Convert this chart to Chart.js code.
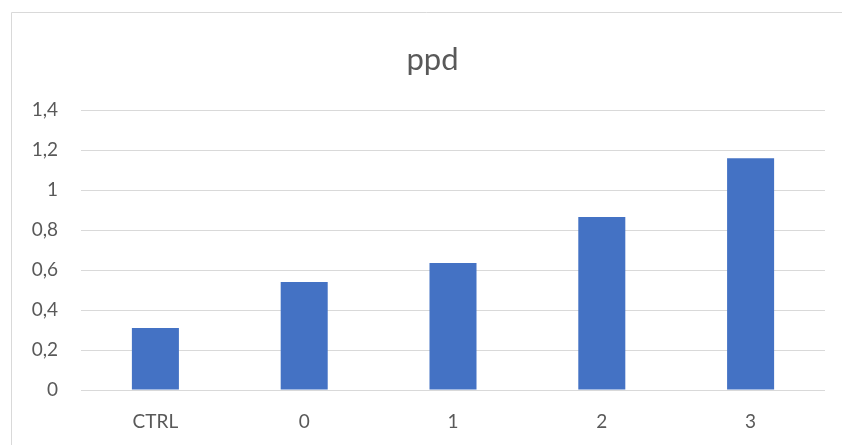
<!DOCTYPE html>
<html>
<head>
<meta charset="utf-8">
<script src="https://cdn.jsdelivr.net/npm/chart.js@4/dist/chart.umd.min.js"></script>
<style>
  html, body { margin: 0; padding: 0; background: #fff; }
  #wrap { width: 842px; height: 445px; position: relative; }
</style>
</head>
<body>
<div id="wrap"><canvas id="myChart"></canvas></div>
<script>
const categories = ['CTRL', '0', '1', '2', '3'];
const ppdValues = [0.31, 0.54, 0.635, 0.865, 1.16];
const yTickLabels = ['0', '0,2', '0,4', '0,6', '0,8', '1', '1,2', '1,4'];

const textColor = '#595959';
const gridColor = '#d9d9d9';
const fontFamily = 'Lato, "Open Sans", sans-serif';

// light frame round the chart, like the office chart area border,
// and the title centred on the whole frame rather than the padded box
const frame = {
  id: 'frame',
  afterLayout(chart) {
    const t = chart.titleBlock;
    t.left += 14;
    t.right += 14;
  },
  beforeDraw(chart) {
    const ctx = chart.ctx;
    ctx.save();
    ctx.strokeStyle = gridColor;
    ctx.lineWidth = 1;
    ctx.beginPath();
    ctx.moveTo(11.5, chart.height);
    ctx.lineTo(11.5, 12.5);
    ctx.lineTo(chart.width, 12.5);
    ctx.stroke();
    ctx.restore();
  }
};

const ctx = document.getElementById('myChart');
new Chart(ctx, {
  type: 'bar',
  data: {
    labels: categories,
    datasets: [{
      label: 'ppd',
      data: ppdValues,
      backgroundColor: '#4472c4',
      borderWidth: 0,
      categoryPercentage: 1,
      barPercentage: 0.316
    }]
  },
  options: {
    responsive: true,
    maintainAspectRatio: false,
    animation: false,
    layout: { padding: { left: 12, right: 17, top: 12, bottom: 13 } },
    plugins: {
      legend: { display: false },
      tooltip: { enabled: false },
      title: {
        display: true,
        text: 'ppd',
        color: textColor,
        font: { family: fontFamily, size: 31, weight: 'normal' },
        padding: { top: 29, bottom: 32 }
      }
    },
    scales: {
      x: {
        afterFit(scale) { scale.height = 42; },
        grid: { display: false, drawTicks: false },
        border: { display: false },
        ticks: {
          color: textColor,
          font: { family: fontFamily, size: 19 },
          padding: 20
        }
      },
      y: {
        min: 0,
        max: 1.4,
        afterFit(scale) { scale.width = 69; },
        grid: { color: gridColor, lineWidth: 1, drawTicks: false },
        border: { display: false },
        ticks: {
          stepSize: 0.2,
          color: textColor,
          font: { family: fontFamily, size: 19 },
          padding: 23,
          callback: (value, idx) => yTickLabels[idx]
        }
      }
    }
  },
  plugins: [frame]
});
</script>
</body>
</html>
